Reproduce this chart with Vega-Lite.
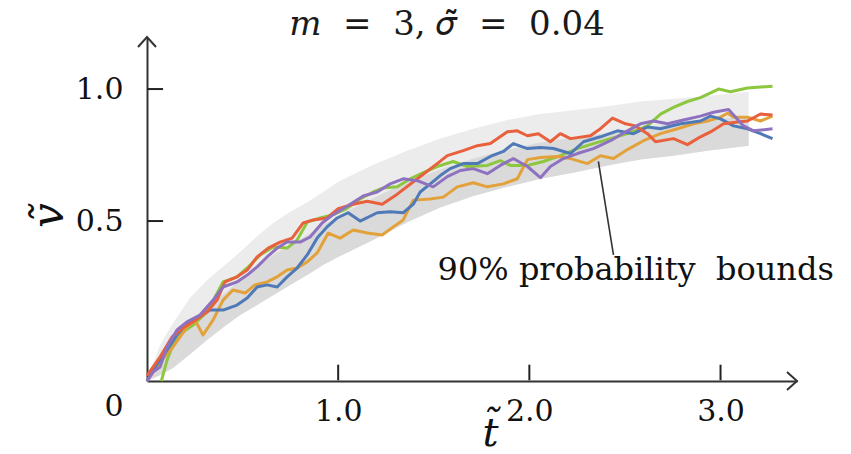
{
  "$schema": "https://vega.github.io/schema/vega-lite/v6.json",
  "width": 650,
  "height": 344,
  "autosize": {"type": "none"},
  "padding": {"left": 147, "top": 37, "right": 54, "bottom": 73},
  "background": "white",
  "config": {"view": {"stroke": null}},
  "title": {
    "text": "𝑚\u00a0\u00a0=\u00a0\u00a03,\u00a0𝜎̃\u00a0\u00a0=\u00a0\u00a00.04",
    "font": "DejaVu Serif",
    "fontSize": 34,
    "fontWeight": "normal",
    "color": "#1a1a1a",
    "frame": "group",
    "anchor": "middle",
    "baseline": "alphabetic",
    "offset": -36,
    "dx": -25
  },
  "datasets": {
    "band": [
      {"t": 0, "lo": 0, "mid": 0, "hi": 0},
      {"t": 0.068, "lo": 0.011, "mid": 0.043, "hi": 0.09},
      {"t": 0.136, "lo": 0.028, "mid": 0.095, "hi": 0.155},
      {"t": 0.225, "lo": 0.064, "mid": 0.149, "hi": 0.235},
      {"t": 0.314, "lo": 0.104, "mid": 0.206, "hi": 0.294},
      {"t": 0.408, "lo": 0.146, "mid": 0.251, "hi": 0.345},
      {"t": 0.487, "lo": 0.18, "mid": 0.294, "hi": 0.39},
      {"t": 0.576, "lo": 0.212, "mid": 0.342, "hi": 0.446},
      {"t": 0.66, "lo": 0.244, "mid": 0.38, "hi": 0.493},
      {"t": 0.749, "lo": 0.278, "mid": 0.415, "hi": 0.534},
      {"t": 0.838, "lo": 0.311, "mid": 0.45, "hi": 0.568},
      {"t": 0.921, "lo": 0.345, "mid": 0.486, "hi": 0.606},
      {"t": 1.01, "lo": 0.376, "mid": 0.523, "hi": 0.648},
      {"t": 1.183, "lo": 0.432, "mid": 0.583, "hi": 0.708},
      {"t": 1.361, "lo": 0.496, "mid": 0.644, "hi": 0.761},
      {"t": 1.534, "lo": 0.549, "mid": 0.69, "hi": 0.807},
      {"t": 1.707, "lo": 0.591, "mid": 0.731, "hi": 0.845},
      {"t": 1.885, "lo": 0.625, "mid": 0.765, "hi": 0.879},
      {"t": 2.058, "lo": 0.655, "mid": 0.792, "hi": 0.902},
      {"t": 2.23, "lo": 0.678, "mid": 0.811, "hi": 0.917},
      {"t": 2.408, "lo": 0.705, "mid": 0.83, "hi": 0.932},
      {"t": 2.581, "lo": 0.727, "mid": 0.848, "hi": 0.951},
      {"t": 2.754, "lo": 0.742, "mid": 0.864, "hi": 0.962},
      {"t": 2.932, "lo": 0.761, "mid": 0.879, "hi": 0.973},
      {"t": 3.147, "lo": 0.78, "mid": 0.894, "hi": 0.989}
    ],
    "lines": [
      {"s": "green", "t": 0.075, "v": 0.0}, {"s": "green", "t": 0.105, "v": 0.048}, {"s": "green", "t": 0.136, "v": 0.09}, {"s": "green", "t": 0.188, "v": 0.128}, {"s": "green", "t": 0.241, "v": 0.149}, {"s": "green", "t": 0.314, "v": 0.19}, {"s": "green", "t": 0.398, "v": 0.288}, {"s": "green", "t": 0.471, "v": 0.305}, {"s": "green", "t": 0.524, "v": 0.335}, {"s": "green", "t": 0.592, "v": 0.38}, {"s": "green", "t": 0.66, "v": 0.408}, {"s": "green", "t": 0.733, "v": 0.404}, {"s": "green", "t": 0.785, "v": 0.432}, {"s": "green", "t": 0.838, "v": 0.496}, {"s": "green", "t": 0.906, "v": 0.511}, {"s": "green", "t": 0.974, "v": 0.523}, {"s": "green", "t": 1.037, "v": 0.542}, {"s": "green", "t": 1.115, "v": 0.58}, {"s": "green", "t": 1.183, "v": 0.606}, {"s": "green", "t": 1.236, "v": 0.621}, {"s": "green", "t": 1.309, "v": 0.625}, {"s": "green", "t": 1.377, "v": 0.655}, {"s": "green", "t": 1.445, "v": 0.678}, {"s": "green", "t": 1.518, "v": 0.701}, {"s": "green", "t": 1.602, "v": 0.72}, {"s": "green", "t": 1.675, "v": 0.701}, {"s": "green", "t": 1.78, "v": 0.705}, {"s": "green", "t": 1.848, "v": 0.723}, {"s": "green", "t": 1.901, "v": 0.705}, {"s": "green", "t": 1.99, "v": 0.705}, {"s": "green", "t": 2.073, "v": 0.72}, {"s": "green", "t": 2.162, "v": 0.742}, {"s": "green", "t": 2.251, "v": 0.769}, {"s": "green", "t": 2.335, "v": 0.788}, {"s": "green", "t": 2.424, "v": 0.807}, {"s": "green", "t": 2.513, "v": 0.826}, {"s": "green", "t": 2.618, "v": 0.856}, {"s": "green", "t": 2.686, "v": 0.902}, {"s": "green", "t": 2.754, "v": 0.928}, {"s": "green", "t": 2.827, "v": 0.951}, {"s": "green", "t": 2.895, "v": 0.966}, {"s": "green", "t": 2.99, "v": 1.0}, {"s": "green", "t": 3.052, "v": 0.989}, {"s": "green", "t": 3.141, "v": 1.004}, {"s": "green", "t": 3.209, "v": 1.008}, {"s": "green", "t": 3.272, "v": 1.011},
      {"s": "orange", "t": 0, "v": 0}, {"s": "orange", "t": 0.068, "v": 0.043}, {"s": "orange", "t": 0.136, "v": 0.084}, {"s": "orange", "t": 0.209, "v": 0.143}, {"s": "orange", "t": 0.251, "v": 0.165}, {"s": "orange", "t": 0.293, "v": 0.119}, {"s": "orange", "t": 0.346, "v": 0.165}, {"s": "orange", "t": 0.398, "v": 0.228}, {"s": "orange", "t": 0.45, "v": 0.261}, {"s": "orange", "t": 0.513, "v": 0.251}, {"s": "orange", "t": 0.565, "v": 0.278}, {"s": "orange", "t": 0.628, "v": 0.288}, {"s": "orange", "t": 0.681, "v": 0.305}, {"s": "orange", "t": 0.733, "v": 0.328}, {"s": "orange", "t": 0.785, "v": 0.335}, {"s": "orange", "t": 0.838, "v": 0.356}, {"s": "orange", "t": 0.89, "v": 0.387}, {"s": "orange", "t": 0.948, "v": 0.457}, {"s": "orange", "t": 1.01, "v": 0.439}, {"s": "orange", "t": 1.079, "v": 0.468}, {"s": "orange", "t": 1.152, "v": 0.457}, {"s": "orange", "t": 1.23, "v": 0.45}, {"s": "orange", "t": 1.288, "v": 0.479}, {"s": "orange", "t": 1.34, "v": 0.504}, {"s": "orange", "t": 1.393, "v": 0.576}, {"s": "orange", "t": 1.482, "v": 0.58}, {"s": "orange", "t": 1.55, "v": 0.587}, {"s": "orange", "t": 1.623, "v": 0.625}, {"s": "orange", "t": 1.707, "v": 0.64}, {"s": "orange", "t": 1.78, "v": 0.625}, {"s": "orange", "t": 1.864, "v": 0.636}, {"s": "orange", "t": 1.937, "v": 0.655}, {"s": "orange", "t": 1.99, "v": 0.727}, {"s": "orange", "t": 2.058, "v": 0.735}, {"s": "orange", "t": 2.147, "v": 0.739}, {"s": "orange", "t": 2.215, "v": 0.731}, {"s": "orange", "t": 2.304, "v": 0.712}, {"s": "orange", "t": 2.372, "v": 0.742}, {"s": "orange", "t": 2.44, "v": 0.731}, {"s": "orange", "t": 2.513, "v": 0.765}, {"s": "orange", "t": 2.597, "v": 0.799}, {"s": "orange", "t": 2.686, "v": 0.826}, {"s": "orange", "t": 2.775, "v": 0.845}, {"s": "orange", "t": 2.859, "v": 0.864}, {"s": "orange", "t": 2.932, "v": 0.875}, {"s": "orange", "t": 3.0, "v": 0.89}, {"s": "orange", "t": 3.037, "v": 0.905}, {"s": "orange", "t": 3.068, "v": 0.89}, {"s": "orange", "t": 3.141, "v": 0.89}, {"s": "orange", "t": 3.209, "v": 0.875}, {"s": "orange", "t": 3.272, "v": 0.894},
      {"s": "blue", "t": 0, "v": 0}, {"s": "blue", "t": 0.042, "v": 0.03}, {"s": "blue", "t": 0.094, "v": 0.067}, {"s": "blue", "t": 0.157, "v": 0.119}, {"s": "blue", "t": 0.209, "v": 0.155}, {"s": "blue", "t": 0.267, "v": 0.174}, {"s": "blue", "t": 0.33, "v": 0.196}, {"s": "blue", "t": 0.398, "v": 0.196}, {"s": "blue", "t": 0.471, "v": 0.212}, {"s": "blue", "t": 0.524, "v": 0.235}, {"s": "blue", "t": 0.576, "v": 0.271}, {"s": "blue", "t": 0.628, "v": 0.278}, {"s": "blue", "t": 0.681, "v": 0.271}, {"s": "blue", "t": 0.733, "v": 0.305}, {"s": "blue", "t": 0.785, "v": 0.335}, {"s": "blue", "t": 0.838, "v": 0.38}, {"s": "blue", "t": 0.89, "v": 0.439}, {"s": "blue", "t": 0.942, "v": 0.479}, {"s": "blue", "t": 0.995, "v": 0.511}, {"s": "blue", "t": 1.052, "v": 0.53}, {"s": "blue", "t": 1.115, "v": 0.5}, {"s": "blue", "t": 1.204, "v": 0.53}, {"s": "blue", "t": 1.272, "v": 0.534}, {"s": "blue", "t": 1.34, "v": 0.53}, {"s": "blue", "t": 1.393, "v": 0.561}, {"s": "blue", "t": 1.429, "v": 0.606}, {"s": "blue", "t": 1.482, "v": 0.636}, {"s": "blue", "t": 1.534, "v": 0.667}, {"s": "blue", "t": 1.586, "v": 0.693}, {"s": "blue", "t": 1.654, "v": 0.712}, {"s": "blue", "t": 1.728, "v": 0.712}, {"s": "blue", "t": 1.796, "v": 0.739}, {"s": "blue", "t": 1.864, "v": 0.758}, {"s": "blue", "t": 1.916, "v": 0.788}, {"s": "blue", "t": 1.99, "v": 0.769}, {"s": "blue", "t": 2.058, "v": 0.773}, {"s": "blue", "t": 2.126, "v": 0.769}, {"s": "blue", "t": 2.215, "v": 0.75}, {"s": "blue", "t": 2.283, "v": 0.795}, {"s": "blue", "t": 2.372, "v": 0.814}, {"s": "blue", "t": 2.461, "v": 0.837}, {"s": "blue", "t": 2.545, "v": 0.826}, {"s": "blue", "t": 2.618, "v": 0.852}, {"s": "blue", "t": 2.686, "v": 0.845}, {"s": "blue", "t": 2.791, "v": 0.864}, {"s": "blue", "t": 2.895, "v": 0.875}, {"s": "blue", "t": 2.948, "v": 0.894}, {"s": "blue", "t": 3.0, "v": 0.883}, {"s": "blue", "t": 3.068, "v": 0.856}, {"s": "blue", "t": 3.141, "v": 0.845}, {"s": "blue", "t": 3.209, "v": 0.826}, {"s": "blue", "t": 3.272, "v": 0.807},
      {"s": "red", "t": 0, "v": 0.01}, {"s": "red", "t": 0.068, "v": 0.056}, {"s": "red", "t": 0.131, "v": 0.113}, {"s": "red", "t": 0.188, "v": 0.14}, {"s": "red", "t": 0.241, "v": 0.159}, {"s": "red", "t": 0.314, "v": 0.19}, {"s": "red", "t": 0.366, "v": 0.228}, {"s": "red", "t": 0.408, "v": 0.288}, {"s": "red", "t": 0.471, "v": 0.305}, {"s": "red", "t": 0.524, "v": 0.328}, {"s": "red", "t": 0.576, "v": 0.373}, {"s": "red", "t": 0.634, "v": 0.404}, {"s": "red", "t": 0.696, "v": 0.425}, {"s": "red", "t": 0.759, "v": 0.439}, {"s": "red", "t": 0.817, "v": 0.493}, {"s": "red", "t": 0.869, "v": 0.504}, {"s": "red", "t": 0.942, "v": 0.511}, {"s": "red", "t": 1.0, "v": 0.545}, {"s": "red", "t": 1.079, "v": 0.561}, {"s": "red", "t": 1.152, "v": 0.572}, {"s": "red", "t": 1.23, "v": 0.561}, {"s": "red", "t": 1.309, "v": 0.598}, {"s": "red", "t": 1.414, "v": 0.655}, {"s": "red", "t": 1.518, "v": 0.712}, {"s": "red", "t": 1.571, "v": 0.742}, {"s": "red", "t": 1.654, "v": 0.761}, {"s": "red", "t": 1.728, "v": 0.78}, {"s": "red", "t": 1.796, "v": 0.788}, {"s": "red", "t": 1.885, "v": 0.833}, {"s": "red", "t": 1.937, "v": 0.837}, {"s": "red", "t": 1.99, "v": 0.818}, {"s": "red", "t": 2.047, "v": 0.826}, {"s": "red", "t": 2.11, "v": 0.795}, {"s": "red", "t": 2.162, "v": 0.826}, {"s": "red", "t": 2.215, "v": 0.807}, {"s": "red", "t": 2.319, "v": 0.818}, {"s": "red", "t": 2.372, "v": 0.845}, {"s": "red", "t": 2.435, "v": 0.886}, {"s": "red", "t": 2.503, "v": 0.864}, {"s": "red", "t": 2.555, "v": 0.856}, {"s": "red", "t": 2.618, "v": 0.826}, {"s": "red", "t": 2.66, "v": 0.795}, {"s": "red", "t": 2.754, "v": 0.807}, {"s": "red", "t": 2.827, "v": 0.784}, {"s": "red", "t": 2.895, "v": 0.814}, {"s": "red", "t": 2.958, "v": 0.837}, {"s": "red", "t": 3.016, "v": 0.864}, {"s": "red", "t": 3.089, "v": 0.871}, {"s": "red", "t": 3.141, "v": 0.875}, {"s": "red", "t": 3.209, "v": 0.902}, {"s": "red", "t": 3.272, "v": 0.898},
      {"s": "purple", "t": 0, "v": 0}, {"s": "purple", "t": 0.031, "v": 0.018}, {"s": "purple", "t": 0.068, "v": 0.03}, {"s": "purple", "t": 0.105, "v": 0.084}, {"s": "purple", "t": 0.157, "v": 0.134}, {"s": "purple", "t": 0.209, "v": 0.159}, {"s": "purple", "t": 0.277, "v": 0.18}, {"s": "purple", "t": 0.346, "v": 0.228}, {"s": "purple", "t": 0.398, "v": 0.271}, {"s": "purple", "t": 0.471, "v": 0.288}, {"s": "purple", "t": 0.524, "v": 0.311}, {"s": "purple", "t": 0.576, "v": 0.339}, {"s": "purple", "t": 0.628, "v": 0.373}, {"s": "purple", "t": 0.681, "v": 0.404}, {"s": "purple", "t": 0.733, "v": 0.425}, {"s": "purple", "t": 0.801, "v": 0.425}, {"s": "purple", "t": 0.853, "v": 0.443}, {"s": "purple", "t": 0.916, "v": 0.493}, {"s": "purple", "t": 0.974, "v": 0.523}, {"s": "purple", "t": 1.063, "v": 0.561}, {"s": "purple", "t": 1.131, "v": 0.591}, {"s": "purple", "t": 1.204, "v": 0.606}, {"s": "purple", "t": 1.272, "v": 0.636}, {"s": "purple", "t": 1.34, "v": 0.655}, {"s": "purple", "t": 1.414, "v": 0.648}, {"s": "purple", "t": 1.497, "v": 0.625}, {"s": "purple", "t": 1.571, "v": 0.663}, {"s": "purple", "t": 1.639, "v": 0.686}, {"s": "purple", "t": 1.707, "v": 0.693}, {"s": "purple", "t": 1.78, "v": 0.674}, {"s": "purple", "t": 1.848, "v": 0.705}, {"s": "purple", "t": 1.916, "v": 0.731}, {"s": "purple", "t": 1.99, "v": 0.701}, {"s": "purple", "t": 2.058, "v": 0.659}, {"s": "purple", "t": 2.11, "v": 0.701}, {"s": "purple", "t": 2.178, "v": 0.731}, {"s": "purple", "t": 2.251, "v": 0.75}, {"s": "purple", "t": 2.335, "v": 0.769}, {"s": "purple", "t": 2.424, "v": 0.799}, {"s": "purple", "t": 2.513, "v": 0.837}, {"s": "purple", "t": 2.581, "v": 0.864}, {"s": "purple", "t": 2.649, "v": 0.875}, {"s": "purple", "t": 2.723, "v": 0.864}, {"s": "purple", "t": 2.806, "v": 0.879}, {"s": "purple", "t": 2.895, "v": 0.894}, {"s": "purple", "t": 2.963, "v": 0.909}, {"s": "purple", "t": 3.042, "v": 0.92}, {"s": "purple", "t": 3.12, "v": 0.856}, {"s": "purple", "t": 3.173, "v": 0.837}, {"s": "purple", "t": 3.272, "v": 0.845}
    ]
  },
  "layer": [
    {
      "data": {"name": "band"},
      "mark": {"type": "area", "color": "#ececec", "opacity": 1},
      "encoding": {
        "x": {
          "field": "t", "type": "quantitative",
          "scale": {"domain": [0, 3.4], "nice": false, "zero": false},
          "axis": {
            "values": [1, 2, 3], "format": ".1f", "grid": false, "ticks": false,
            "labelFont": "DejaVu Serif", "labelFontSize": 30, "labelColor": "#111",
            "domainColor": "#333", "domainWidth": 2, "labelPadding": 15,
            "title": "t̃", "titleFont": "DejaVu Serif", "titleFontStyle": "italic", "titleFontWeight": "normal",
            "titleFontSize": 40, "titleColor": "#111", "titleX": 343, "titleY": 64,
            "titleBaseline": "alphabetic", "titleAlign": "center"
          }
        },
        "y": {
          "field": "lo", "type": "quantitative",
          "scale": {"type": "pow", "exponent": 0.868, "domain": [0, 1.208], "nice": false, "zero": false},
          "axis": {
            "values": [0, 0.5, 1], "grid": false, "ticks": false,
            "labelExpr": "datum.value == 0 ? '0' : format(datum.value, '.1f')",
            "labelOffset": {"condition": {"test": "datum.value == 0", "value": 25}, "value": 0},
            "labelFont": "DejaVu Serif", "labelFontSize": 30, "labelColor": "#111",
            "domainColor": "#333", "domainWidth": 2, "labelPadding": 24,
            "title": "ṽ", "titleFont": "DejaVu Serif", "titleFontStyle": "italic", "titleFontWeight": "normal",
            "titleFontSize": 44, "titleColor": "#111", "titleX": -85, "titleY": 178,
            "titleBaseline": "alphabetic", "titleAlign": "center", "titleAngle": 270
          }
        },
        "y2": {"field": "hi"}
      }
    },
    {
      "data": {"name": "band"},
      "mark": {"type": "area", "color": "#dadada", "opacity": 1},
      "encoding": {
        "x": {"field": "t", "type": "quantitative"},
        "y": {"field": "lo", "type": "quantitative"},
        "y2": {"field": "mid"}
      }
    },
    {
      "data": {"name": "lines"},
      "mark": {"type": "line", "strokeWidth": 3, "strokeJoin": "round"},
      "encoding": {
        "x": {"field": "t", "type": "quantitative"},
        "y": {"field": "v", "type": "quantitative"},
        "color": {
          "field": "s", "type": "nominal", "legend": null,
          "scale": {"domain": ["green", "orange", "blue", "red", "purple"], "range": ["#8dc63f", "#e3a13a", "#5079b8", "#e8603c", "#8e72c0"]}
        }
      }
    },
    {
      "data": {"values": [{"k": 1}]},
      "mark": {"type": "rule", "color": "#222", "strokeWidth": 2},
      "encoding": {"x": {"datum": 1}, "y": {"datum": 0.001}, "x2": {"datum": 1}, "y2": {"datum": 0.036}}
    },
    {
      "data": {"values": [{"k": 1}]},
      "mark": {"type": "rule", "color": "#222", "strokeWidth": 2},
      "encoding": {"x": {"datum": 2}, "y": {"datum": 0.001}, "x2": {"datum": 2}, "y2": {"datum": 0.036}}
    },
    {
      "data": {"values": [{"k": 1}]},
      "mark": {"type": "rule", "color": "#222", "strokeWidth": 2},
      "encoding": {"x": {"datum": 3}, "y": {"datum": 0.001}, "x2": {"datum": 3}, "y2": {"datum": 0.036}}
    },
    {
      "data": {"values": [{"k": 1}]},
      "mark": {"type": "rule", "color": "#222", "strokeWidth": 2},
      "encoding": {"x": {"datum": 0.001}, "y": {"datum": 0.5}, "x2": {"datum": 0.084}, "y2": {"datum": 0.5}}
    },
    {
      "data": {"values": [{"k": 1}]},
      "mark": {"type": "rule", "color": "#222", "strokeWidth": 2},
      "encoding": {"x": {"datum": 0.001}, "y": {"datum": 1}, "x2": {"datum": 0.084}, "y2": {"datum": 1}}
    },
    {
      "data": {"values": [{"k": 1}]},
      "mark": {"type": "rule", "color": "#333", "strokeWidth": 1.6},
      "encoding": {
        "x": {"datum": 2.361}, "y": {"datum": 0.72},
        "x2": {"datum": 2.44}, "y2": {"datum": 0.38}
      }
    },
    {
      "data": {"values": [{"k": 1}]},
      "mark": {"type": "text", "font": "DejaVu Serif", "fontSize": 32, "color": "#111", "align": "left", "baseline": "alphabetic"},
      "encoding": {
        "x": {"datum": 1.52}, "y": {"datum": 0.294},
        "text": {"value": "90% probability\u00a0 bounds"}
      }
    },
    {
      "data": {"values": [{"k": 1}]},
      "mark": {"type": "point", "shape": "M-1,-0.9L0,0L-1,0.9", "filled": false, "stroke": "#333", "strokeWidth": 2, "size": 400, "opacity": 1},
      "encoding": {"x": {"datum": 3.4}, "y": {"datum": 0}}
    },
    {
      "data": {"values": [{"k": 1}]},
      "mark": {"type": "point", "shape": "M-0.9,1L0,0L0.9,1", "filled": false, "stroke": "#333", "strokeWidth": 2, "size": 400, "opacity": 1},
      "encoding": {"x": {"datum": 0}, "y": {"datum": 1.208}}
    }
  ]
}
